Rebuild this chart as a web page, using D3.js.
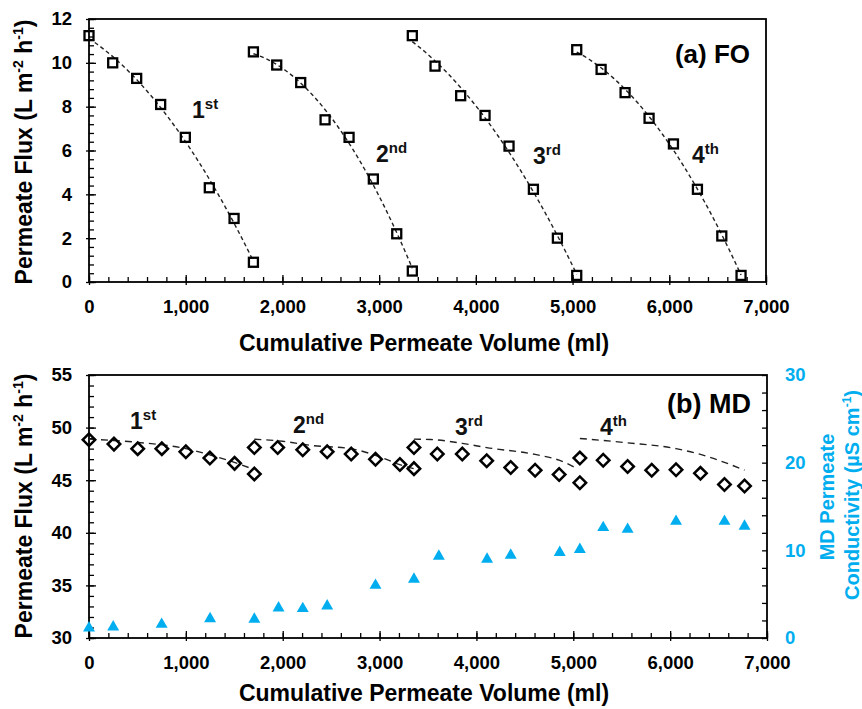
<!DOCTYPE html>
<html><head><meta charset="utf-8">
<script src="https://cdn.jsdelivr.net/npm/d3@7"></script>
<style>
body{margin:0;background:#fff;}
svg{display:block;font-family:"Liberation Sans",Arial,sans-serif;font-weight:bold;}
</style></head>
<body>
<script>
// ---------- DATA ----------
const cycleLabels = ["1", "2", "3", "4"];
const cycleSuffix = ["st", "nd", "rd", "th"];
const xTickValues = [0, 1000, 2000, 3000, 4000, 5000, 6000, 7000];
const foTickValues = [0, 2, 4, 6, 8, 10, 12];
const mdTickValues = [30, 35, 40, 45, 50, 55];
const condTickValues = [0, 10, 20, 30];

// (a) FO : cumulative volume (ml) and flux (LMH) for each cycle
const foVolume = [
  [0, 245, 493, 741, 996, 1244, 1500, 1700],
  [1700, 1941, 2189, 2441, 2689, 2940, 3182, 3343],
  [3343, 3578, 3843, 4095, 4343, 4595, 4843, 5043],
  [5043, 5295, 5543, 5791, 6043, 6291, 6543, 6742]
];
const foFlux = [
  [11.24, 10.0, 9.29, 8.1, 6.6, 4.3, 2.9, 0.9],
  [10.5, 9.9, 9.1, 7.4, 6.6, 4.7, 2.2, 0.5],
  [11.24, 9.85, 8.5, 7.6, 6.2, 4.23, 2.0, 0.3],
  [10.6, 9.7, 8.64, 7.47, 6.3, 4.23, 2.1, 0.3]
];

// (b) MD : flux
const mdVolume = [
  [0, 258, 503, 752, 1000, 1248, 1503, 1707],
  [1707, 1948, 2207, 2459, 2707, 2958, 3210, 3355],
  [3355, 3596, 3854, 4106, 4354, 4606, 4854, 5068],
  [5068, 5309, 5561, 5810, 6061, 6313, 6561, 6768]
];
const mdFlux = [
  [48.85, 48.43, 48.0, 48.0, 47.7, 47.1, 46.6, 45.6],
  [48.1, 48.1, 47.9, 47.7, 47.5, 47.0, 46.5, 46.1],
  [48.1, 47.5, 47.5, 46.85, 46.2, 45.95, 45.55, 44.75],
  [47.1, 46.9, 46.3, 45.95, 46.0, 45.65, 44.6, 44.45]
];
// (b) MD : dashed curves
const mdFitVolume = [
  [0, 500, 1000, 1250, 1500, 1707],
  [1707, 2000, 2300, 2700, 3050, 3200, 3355],
  [3355, 3526, 3854, 4106, 4606, 4854, 5043],
  [5068, 5561, 6061, 6313, 6768]
];
const mdFitFlux = [
  [48.9, 48.6, 48.0, 47.4, 46.7, 46.0],
  [48.9, 48.7, 48.3, 48.0, 47.05, 46.5, 46.1],
  [48.9, 48.87, 48.5, 48.1, 47.45, 46.9, 46.1],
  [48.97, 48.55, 48.0, 47.45, 45.96]
];
// (b) MD : permeate conductivity (µS/cm)
const condVolume = [0, 250, 750, 1250, 1707, 1957, 2207, 2459, 2958, 3355, 3612, 4110, 4354, 4860, 5068, 5309, 5561, 6061, 6561, 6768];
const condValue = [1.14, 1.26, 1.56, 2.2, 2.14, 3.43, 3.35, 3.65, 6.0, 6.7, 9.33, 8.99, 9.44, 9.75, 10.1, 12.6, 12.4, 13.3, 13.3, 12.75];

// ---------- DRAW ----------
const W = 862, H = 709;
const BLUE = "#00AEEF";
const svg = d3.select("body").append("svg").attr("width", W).attr("height", H);

const xA = d3.scaleLinear().domain([0, 7000]).range([89, 766]);
const yA = d3.scaleLinear().domain([0, 12]).range([282, 19]);
const xB = d3.scaleLinear().domain([0, 7000]).range([89, 767]);
const yB = d3.scaleLinear().domain([30, 55]).range([638, 375]);
const yR = d3.scaleLinear().domain([0, 30]).range([638, 375]);

function range(a, b, s) { const r = []; for (let v = a; v <= b + 1e-9; v += s) r.push(+v.toFixed(4)); return r; }

function styleAxis(g, color) {
  g.select(".domain").remove();
  g.selectAll("line").attr("stroke", color || "#000").attr("stroke-width", 1.3);
  g.selectAll("text").attr("font-size", 18.5).attr("font-weight", "bold")
    .attr("fill", color || "#000").attr("font-family", "Liberation Sans, Arial, sans-serif");
}

function xAxis(x, yPos) {
  // minor ticks inside
  svg.append("g").attr("transform", `translate(0,${yPos})`)
    .call(d3.axisBottom(x).tickValues(range(0, 7000, 200)).tickSize(-5).tickFormat(""))
    .call(g => styleAxis(g));
  // major ticks (cross)
  svg.append("g").attr("transform", `translate(0,${yPos})`)
    .call(d3.axisBottom(x).tickValues(xTickValues).tickSize(-7).tickFormat(""))
    .call(g => styleAxis(g));
  svg.append("g").attr("transform", `translate(0,${yPos})`)
    .call(d3.axisBottom(x).tickValues(xTickValues).tickSize(3).tickPadding(15).tickFormat(d3.format(",")))
    .call(g => styleAxis(g));
}
function yAxisLeft(y, minorStep, majors, xPos) {
  const [d0, d1] = y.domain();
  svg.append("g").attr("transform", `translate(${xPos},0)`)
    .call(d3.axisLeft(y).tickValues(range(d0, d1, minorStep)).tickSize(-5).tickFormat(""))
    .call(g => styleAxis(g));
  svg.append("g").attr("transform", `translate(${xPos},0)`)
    .call(d3.axisLeft(y).tickValues(majors).tickSize(-7).tickFormat(""))
    .call(g => styleAxis(g));
  svg.append("g").attr("transform", `translate(${xPos},0)`)
    .call(d3.axisLeft(y).tickValues(majors).tickSize(3).tickPadding(14).tickFormat(d3.format("d")))
    .call(g => styleAxis(g));
}

// ----- frames -----
svg.append("rect").attr("x", xA(0)).attr("y", yA(12)).attr("width", xA(7000) - xA(0)).attr("height", yA(0) - yA(12))
  .attr("fill", "none").attr("stroke", "#000").attr("stroke-width", 1.8);
svg.append("rect").attr("x", xB(0)).attr("y", yB(55)).attr("width", xB(7000) - xB(0)).attr("height", yB(30) - yB(55))
  .attr("fill", "none").attr("stroke", "#000").attr("stroke-width", 1.8);

xAxis(xA, 282);
xAxis(xB, 638);
yAxisLeft(yA, 0.4, foTickValues, 89);
yAxisLeft(yB, 1, mdTickValues, 89);
// right axis
svg.append("g").attr("transform", `translate(767,0)`)
  .call(d3.axisRight(yR).tickValues(range(0, 30, 2)).tickSize(-5).tickFormat(""))
  .call(g => styleAxis(g));
svg.append("g").attr("transform", `translate(767,0)`)
  .call(d3.axisRight(yR).tickValues(condTickValues).tickSize(0).tickPadding(18).tickFormat(d3.format("d")))
  .call(g => styleAxis(g, BLUE));

// ----- (a) FO fits: quadratic least squares trendlines -----
function quadFit(xs, ys) {
  const n = xs.length; let s = Array(5).fill(0), t = [0, 0, 0];
  for (let i = 0; i < n; i++) {
    const x = xs[i] / 1000;
    for (let k = 0; k < 5; k++) s[k] += Math.pow(x, k);
    for (let k = 0; k < 3; k++) t[k] += ys[i] * Math.pow(x, k);
  }
  const M = [[s[0], s[1], s[2], t[0]], [s[1], s[2], s[3], t[1]], [s[2], s[3], s[4], t[2]]];
  for (let i = 0; i < 3; i++) {
    for (let j = i + 1; j < 3; j++) {
      const f = M[j][i] / M[i][i];
      for (let k = i; k < 4; k++) M[j][k] -= f * M[i][k];
    }
  }
  const c = [0, 0, 0];
  for (let i = 2; i >= 0; i--) {
    let v = M[i][3];
    for (let k = i + 1; k < 3; k++) v -= M[i][k] * c[k];
    c[i] = v / M[i][i];
  }
  return x => { const u = x / 1000; return c[0] + c[1] * u + c[2] * u * u; };
}
const lineA = d3.line().x(d => xA(d[0])).y(d => yA(d[1]));
foVolume.forEach((vols, i) => {
  const f = quadFit(vols, foFlux[i]);
  const x0 = vols[0], x1 = vols[vols.length - 1];
  const pts = d3.range(0, 41).map(k => { const x = x0 + (x1 - x0) * k / 40; return [x, f(x)]; });
  svg.append("path").attr("d", lineA(pts)).attr("fill", "none").attr("stroke", "#222")
    .attr("stroke-width", 1.4).attr("stroke-dasharray", "4,3");
});
// squares
foVolume.forEach((vols, i) => {
  svg.append("g").selectAll("rect").data(vols.map((v, j) => [v, foFlux[i][j]])).join("rect")
    .attr("x", d => xA(d[0]) - 4.5).attr("y", d => yA(d[1]) - 4.5)
    .attr("width", 9).attr("height", 9)
    .attr("fill", "none").attr("stroke", "#000").attr("stroke-width", 2.3);
});

// ----- (b) MD -----
const lineB = d3.line().x(d => xB(d[0])).y(d => yB(d[1])).curve(d3.curveMonotoneX);
mdFitVolume.forEach((vols, i) => {
  svg.append("path").attr("d", lineB(vols.map((v, j) => [v, mdFitFlux[i][j]])))
    .attr("fill", "none").attr("stroke", "#222").attr("stroke-width", 1.4).attr("stroke-dasharray", "7,5");
});
const diamond = d3.symbol().type(d3.symbolSquare).size(78);
mdVolume.forEach((vols, i) => {
  svg.append("g").selectAll("path").data(vols.map((v, j) => [v, mdFlux[i][j]])).join("path")
    .attr("d", diamond)
    .attr("transform", d => `translate(${xB(d[0])},${yB(d[1])}) rotate(45)`)
    .attr("fill", "none").attr("stroke", "#000").attr("stroke-width", 2.5);
});
const tri = d3.symbol().type(d3.symbolTriangle).size(62);
svg.append("g").selectAll("path").data(condVolume.map((v, j) => [v, condValue[j]])).join("path")
  .attr("d", tri)
  .attr("transform", d => `translate(${xB(d[0])},${yR(d[1])})`)
  .attr("fill", BLUE);

// ----- labels -----
function ordinal(x, y, i) {
  const t = svg.append("text").attr("x", x).attr("y", y).attr("font-weight", "bold").attr("fill", "#111");
  t.append("tspan").attr("font-size", 23).text(cycleLabels[i]);
  t.append("tspan").attr("font-size", 15).attr("dy", -9).text(cycleSuffix[i]);
}
[[192, 118], [376, 162], [533, 164], [692, 163]].forEach((p, i) => ordinal(p[0], p[1], i));
[[130, 429], [293, 433], [455, 435], [600, 435]].forEach((p, i) => ordinal(p[0], p[1], i));

svg.append("text").attr("x", 750).attr("y", 63).attr("text-anchor", "end").attr("font-size", 26).text("(a) FO");
svg.append("text").attr("x", 751).attr("y", 413).attr("text-anchor", "end").attr("font-size", 27).text("(b) MD");

// axis titles
function fluxTitle(cx, cy) {
  const t = svg.append("text").attr("transform", `translate(${cx},${cy}) rotate(-90)`)
    .attr("text-anchor", "middle").attr("font-size", 23);
  t.append("tspan").text("Permeate Flux (L m");
  t.append("tspan").attr("font-size", 14).attr("dy", -9).text("-2");
  t.append("tspan").attr("dy", 9).text(" h");
  t.append("tspan").attr("font-size", 14).attr("dy", -9).text("-1");
  t.append("tspan").attr("dy", 9).text(")");
}
fluxTitle(32, 152);
fluxTitle(32, 506);

svg.append("text").attr("x", 424).attr("y", 351).attr("text-anchor", "middle").attr("font-size", 23)
  .text("Cumulative Permeate Volume (ml)");
svg.append("text").attr("x", 424).attr("y", 701).attr("text-anchor", "middle").attr("font-size", 23)
  .text("Cumulative Permeate Volume (ml)");

const rt = svg.append("text").attr("transform", `translate(834,497) rotate(-90)`)
  .attr("text-anchor", "middle").attr("font-size", 20).attr("fill", BLUE).text("MD Permeate");
const rt2 = svg.append("text").attr("transform", `translate(859,495) rotate(-90)`)
  .attr("text-anchor", "middle").attr("font-size", 20).attr("fill", BLUE);
rt2.append("tspan").text("Conductivity (µS cm");
rt2.append("tspan").attr("font-size", 12).attr("dy", -8).text("-1");
rt2.append("tspan").attr("dy", 8).text(")");
</script>
</body></html>
